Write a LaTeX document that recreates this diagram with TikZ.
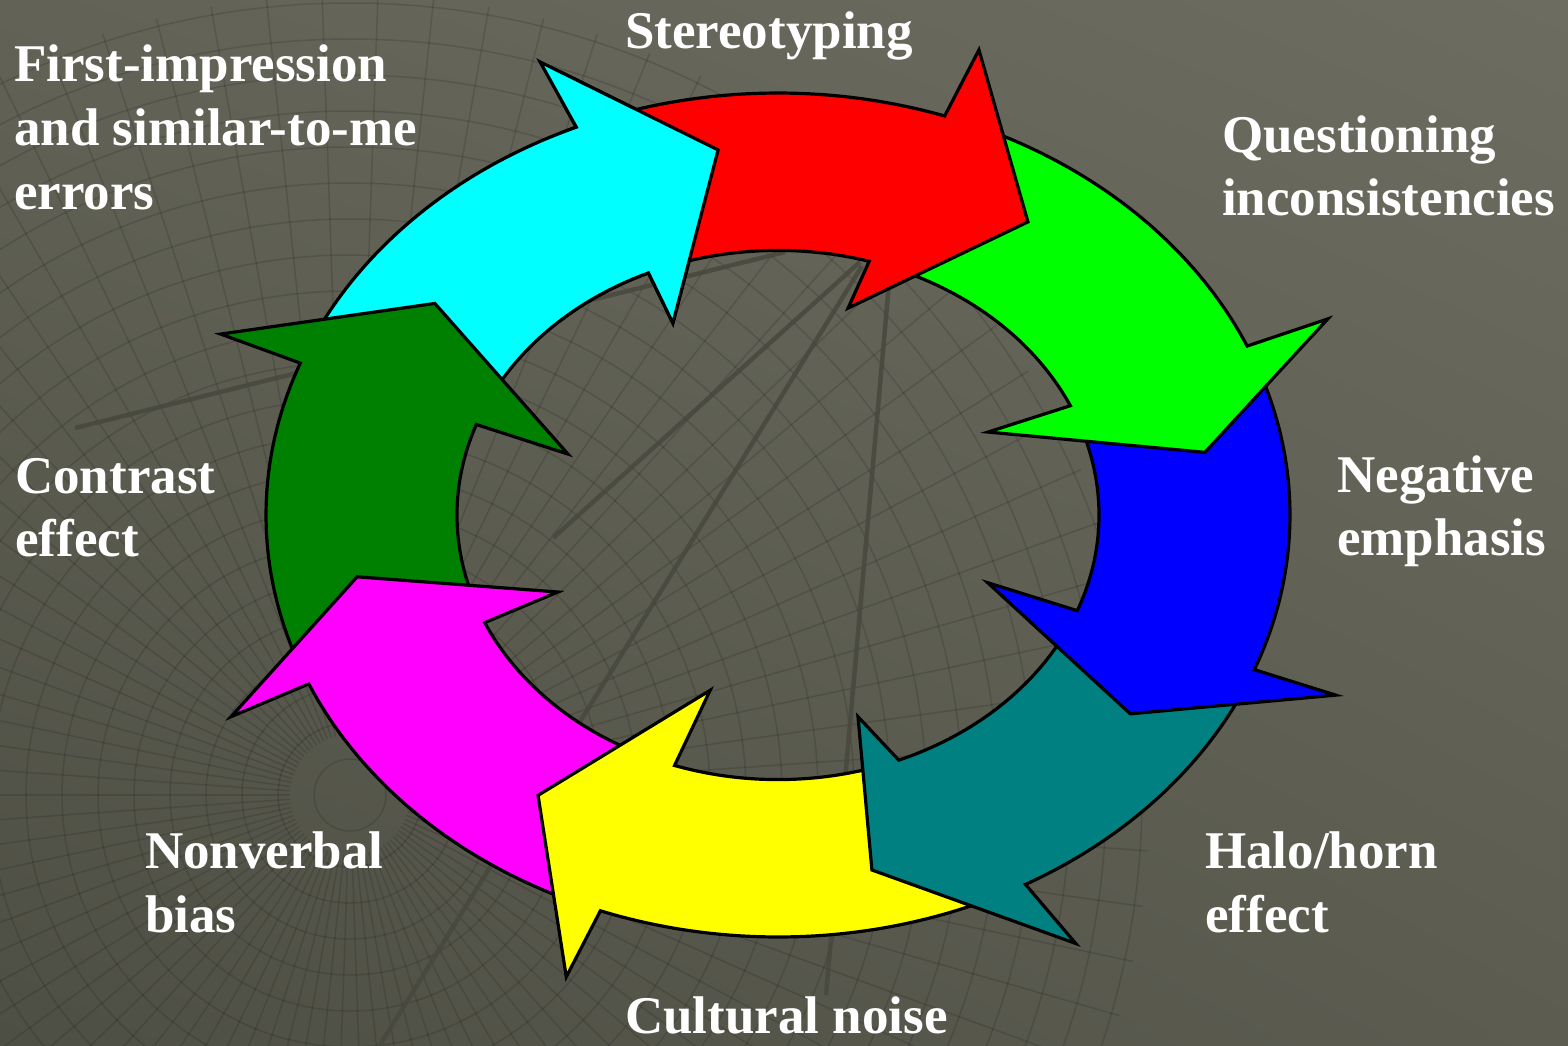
\documentclass[tikz,border=0pt]{standalone}
\usepackage{fontspec}
\setmainfont{Liberation Serif}
\usetikzlibrary{shadings}
\definecolor{bgUL}{RGB}{98,98,86}
\definecolor{bgUR}{RGB}{108,108,96}
\definecolor{bgLL}{RGB}{78,79,68}
\definecolor{bgLR}{RGB}{92,92,81}
\definecolor{cCyan}{RGB}{0,255,255}
\definecolor{cRed}{RGB}{255,0,0}
\definecolor{cLime}{RGB}{0,255,0}
\definecolor{cBlue}{RGB}{0,0,255}
\definecolor{cTeal}{RGB}{0,128,128}
\definecolor{cYellow}{RGB}{255,255,0}
\definecolor{cMagenta}{RGB}{255,0,255}
\definecolor{cDkGreen}{RGB}{0,128,0}
\definecolor{heavyc}{RGB}{72,72,62}
% #1 tail outer, #2 tail inner, #3 neck outer, #4 neck inner,
% #5 outer barb angle, #6 tip angle, #7 tip radius, #8 inner barb angle, #9 inner barb radius
\newcommand\ringpath[9]{plot[domain=#1:#3,samples=40] (\x:1) -- (#5:1.17) -- (#6:#7) -- (#8:#9) -- (#4:0.627) -- plot[domain=#4:#2,samples=40] (\x:0.627) -- cycle}
\begin{document}
\begin{tikzpicture}[x=1pt,y=-1pt,
  lbl/.style={text=white, font=\bfseries\fontsize{53}{63}\selectfont, inner sep=0pt, anchor=base west},
  arrowshape/.style={draw=black, line width=3.2pt, line join=miter},
  ringcoords/.style={shift={(778pt,-515pt)}, x={(512pt,0pt)}, y={(0pt,422pt)}},
  gridline/.style={draw=black, draw opacity=0.13, line width=1.5pt},
  heavyline/.style={draw=heavyc, line width=4.5pt, draw opacity=0.85}]
\path[use as bounding box] (0,0) rectangle (1568,1045);
\shade[upper left=bgUL, upper right=bgUR, lower left=bgLL, lower right=bgLR] (0,0) rectangle (1568,1045);
% background grid
\begin{scope}
  \clip (350,795) circle[radius=800];
  \foreach \r in {36,72,...,1000} \draw[gridline] (350,795) circle[radius=\r];
  \foreach \a in {0,4,...,356} \draw[gridline] (350,795) ++(\a:60) -- ++(\a:940);
\end{scope}
\draw[heavyline] (860,262) -- (553,538);
\draw[heavyline] (862,266) -- (380,1045);
\draw[heavyline] (890,272) -- (826,995);
\draw[heavyline] (75,428) -- (785,252);
% arrows
\begin{scope}[ringcoords]
  \filldraw[arrowshape, fill=cCyan] \ringpath{154.9}{157.5}{113.2}{113.8}{113.4}{97.7}{0.873}{114.3}{0.499};
  \filldraw[arrowshape, fill=cDkGreen] \ringpath{-160.4}{-158.5}{-201.1}{-200}{-201.5}{-216.8}{0.837}{-199.4}{0.435};
  \filldraw[arrowshape, fill=cMagenta] \ringpath{-114.3}{-111.3}{-156.4}{-156}{-155.9}{-169.9}{0.835}{-157}{0.467};
  \filldraw[arrowshape, fill=cYellow] \ringpath{-65.1}{-70.4}{-110.3}{-108.8}{-110.7}{-125.2}{0.813}{-107.7}{0.436};
  \filldraw[arrowshape, fill=cTeal] \ringpath{-25.5}{-23.7}{-61.1}{-67.9}{-60.2}{-77.7}{0.861}{-71.9}{0.503};
  \filldraw[arrowshape, fill=cBlue] \ringpath{19.6}{21.9}{-21.5}{-21.2}{-21.4}{-34.4}{0.834}{-21.4}{0.44};
  \filldraw[arrowshape, fill=cLime] \ringpath{67}{71}{23.6}{24.4}{23.4}{10.1}{0.847}{25.6}{0.455};
  \filldraw[arrowshape, fill=cRed] \ringpath{109.2}{111.3}{71.0}{73.5}{70.4}{54.9}{0.849}{74.4}{0.509};
\end{scope}
\begin{scope}
  \clip (560,0) rectangle (800,400);
  \begin{scope}[ringcoords]
    \filldraw[arrowshape, fill=cCyan] \ringpath{154.9}{157.5}{113.2}{113.8}{113.4}{97.7}{0.873}{114.3}{0.499};
  \end{scope}
\end{scope}
% labels
\node[lbl] (st) at (625,48) {Stereotyping};
\node[lbl] (fi1) at (14,81) {First-impression};
\node[lbl] (fi2) at (14,145) {and similar-to-me};
\node[lbl] (fi3) at (14,209) {errors};
\node[lbl] (qu1) at (1222,152) {Questioning};
\node[lbl] (qu2) at (1222,215) {inconsistencies};
\node[lbl] (ne1) at (1337,492) {Negative};
\node[lbl] (ne2) at (1337,555) {emphasis};
\node[lbl] (co1) at (15,493) {Contrast};
\node[lbl] (co2) at (15,556) {effect};
\node[lbl] (nv1) at (145,868) {Nonverbal};
\node[lbl] (nv2) at (145,932) {bias};
\node[lbl] (ha1) at (1205,868) {Halo/horn};
\node[lbl] (ha2) at (1205,932) {effect};
\node[lbl] (cu) at (625,1033) {Cultural noise};
\end{tikzpicture}
\end{document}
